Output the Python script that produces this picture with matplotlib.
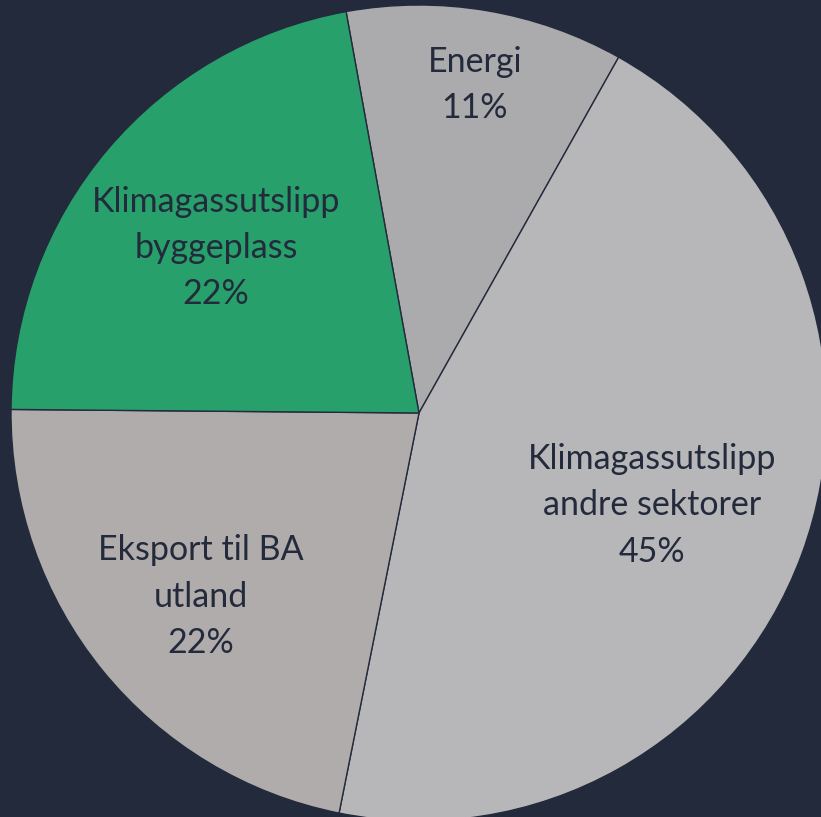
import numpy as np
import matplotlib
matplotlib.use('Agg')
import matplotlib.pyplot as plt

# data
labels = ['Energi', 'Klimagassutslipp\nandre sektorer', 'Eksport til BA\nutland', 'Klimagassutslipp\nbyggeplass']
values = [11, 45, 22, 22]
colors = ['#ababad', '#b7b7b9', '#b0acab', '#27a06b']
label_dist = [0.83, 0.61, 0.69, 0.65]

bg = '#232a3b'
fig = plt.figure(figsize=(8.21, 8.17), dpi=100, facecolor=bg)
ax = fig.add_axes([0, 0, 1, 1])
ax.set_facecolor(bg)

cx, cy, R = 419, 404, 408
wedges, _ = ax.pie(values, colors=colors, startangle=100.3, counterclock=False,
                   center=(cx, cy), radius=R, frame=True,
                   wedgeprops=dict(edgecolor=bg, linewidth=1.0))
ax.set_xlim(0, 821)
ax.set_ylim(0, 817)
ax.set_aspect('equal')
ax.axis('off')

total = sum(values)
for w, lab, v, d in zip(wedges, labels, values, label_dist):
    ang = np.deg2rad((w.theta1 + w.theta2) / 2)
    x = cx + d * R * np.cos(ang)
    y = cy + d * R * np.sin(ang) - 6  # text sits a touch lower than the bisector
    ax.text(x, y, '{}\n{}%'.format(lab, round(100 * v / total)), ha='center', va='center',
            color=bg, fontsize=24.5, family=['Lato', 'DejaVu Sans'], linespacing=1.55)

fig.savefig('out.png', dpi=100, facecolor=bg)
